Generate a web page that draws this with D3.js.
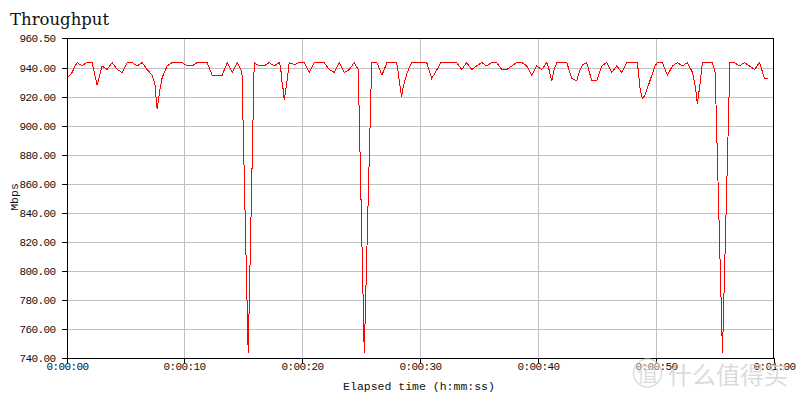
<!DOCTYPE html>
<html>
<head>
<meta charset="utf-8">
<script src="https://cdn.jsdelivr.net/npm/d3@7"></script>
<style>
  html, body { margin: 0; padding: 0; background: #fff; }
  svg { display: block; }
  .tick-label { font-family: "Liberation Mono", "DejaVu Sans Mono", monospace; font-size: 11px; letter-spacing: -0.6px; fill: #111; }
</style>
</head>
<body>
<svg id="chart" width="800" height="400"></svg>
<script>
// ---- Data ----
const chartTitle = "Throughput";
const yTitle = "Mbps";
const xTitle = "Elapsed time (h:mm:ss)";

// elapsed seconds of each sample vertex
const times = [
  0.05, 0.28, 0.48, 0.70, 0.90, 1.32, 1.55, 1.75, 2.17, 2.60,
  3.02, 3.45, 3.87, 4.30, 4.72, 5.15, 5.57, 5.99, 6.42, 6.84,
  7.27, 7.50, 7.69, 7.92, 8.12, 8.54, 8.97, 9.82, 10.24, 10.66,
  11.09, 11.94, 12.36, 13.21, 13.64, 14.06, 14.49, 14.72, 14.89, 15.42,
  15.93, 16.35, 16.78, 17.20, 17.63, 18.05, 18.17, 18.26, 18.39, 18.48,
  18.60, 18.73, 18.90, 19.33, 19.75, 20.17, 20.60, 21.02, 21.87, 22.30,
  22.72, 23.15, 23.57, 24.00, 24.42, 24.76, 25.27, 25.90, 26.35, 26.77,
  27.20, 28.02, 28.16, 28.43, 28.58, 28.73, 28.92, 29.15, 29.30, 30.57,
  30.99, 31.42, 31.76, 33.12, 33.54, 33.96, 34.39, 34.81, 35.24, 35.66,
  36.09, 36.51, 36.94, 37.36, 37.79, 38.21, 38.64, 39.06, 39.48, 39.91,
  40.33, 40.76, 40.95, 41.18, 41.38, 41.61, 42.46, 42.88, 43.30, 43.58,
  43.81, 44.15, 44.58, 45.00, 45.43, 45.85, 46.28, 46.70, 47.13, 47.55,
  48.45, 48.68, 48.87, 49.10, 49.53, 49.95, 50.15, 50.57, 51.00, 51.42,
  51.85, 52.27, 52.70, 53.12, 53.35, 53.54, 53.77, 53.97, 54.82, 55.05,
  55.67, 56.30, 56.69, 57.11, 57.54, 57.96, 58.39, 58.81, 59.24, 59.57
];
// throughput in Mbps at each vertex
const mbps = [
  933.0, 934.7, 936.6, 940.5, 943.4, 941.1, 942.5, 943.4, 943.4, 927.8,
  941.1, 938.6, 943.4, 938.6, 936.6, 943.4, 943.4, 941.1, 943.4, 938.6,
  934.7, 929.0, 911.3, 924.4, 933.1, 941.1, 943.4, 943.4, 941.1, 941.1,
  943.4, 943.4, 934.7, 934.7, 943.4, 936.6, 943.4, 940.0, 936.6, 743.0,
  943.4, 941.1, 941.1, 943.4, 941.1, 943.4, 941.0, 931.3, 924.8, 917.5,
  924.4, 931.3, 943.4, 942.0, 943.4, 943.4, 936.6, 943.4, 943.4, 938.6,
  936.6, 943.4, 936.6, 938.6, 943.4, 938.6, 743.0, 943.4, 943.4, 934.7,
  943.4, 943.4, 935.9, 919.8, 926.7, 931.3, 936.6, 941.1, 943.4, 943.4,
  932.4, 938.2, 943.4, 943.4, 938.6, 943.4, 938.6, 941.1, 943.4, 941.1,
  943.4, 943.4, 938.6, 938.6, 941.1, 943.4, 943.4, 941.1, 934.7, 941.1,
  938.6, 943.4, 938.6, 930.8, 938.6, 943.4, 943.4, 932.4, 930.8, 938.6,
  942.0, 943.4, 930.8, 930.8, 941.1, 943.4, 936.6, 941.1, 936.6, 943.4,
  943.4, 925.5, 918.4, 920.9, 931.3, 941.1, 943.4, 943.4, 934.7, 941.1,
  943.4, 941.1, 943.4, 936.6, 927.8, 915.2, 928.9, 943.4, 943.4, 936.6,
  743.0, 943.4, 943.4, 941.1, 943.4, 941.1, 938.6, 943.4, 932.4, 932.4
];

const yTicks = [740, 760, 780, 800, 820, 840, 860, 880, 900, 920, 940, 960.5];
const xTicks = [0, 10, 20, 30, 40, 50, 60];
const xTickLabels = ["0:00:00", "0:00:10", "0:00:20", "0:00:30", "0:00:40", "0:00:50", "0:01:00"];
const watermarkText = "什么值得买";
const watermarkLogo = "值";

// ---- Drawing ----
(function () {
const svg = d3.select("#chart");
const pL = 66.5, pR = 773.5, pT = 37.8, pB = 357.5;

const x = d3.scaleLinear().domain([0, 60]).range([pL, pR]);
const y = d3.scaleLinear().domain([740, 960.5]).range([pB, pT]);

// grid
const grid = svg.append("g").attr("shape-rendering", "crispEdges");
grid.selectAll("line.h").data(yTicks.slice(1, -1)).join("line")
  .attr("class", "h")
  .attr("x1", pL).attr("x2", pR)
  .attr("y1", d => Math.round(y(d)) + 0.5).attr("y2", d => Math.round(y(d)) + 0.5)
  .attr("stroke", "#c0c0c0");
grid.selectAll("line.v").data(xTicks.slice(1, -1)).join("line")
  .attr("class", "v")
  .attr("x1", d => Math.round(x(d)) + 0.5).attr("x2", d => Math.round(x(d)) + 0.5)
  .attr("y1", pT).attr("y2", pB)
  .attr("stroke", "#c0c0c0");

// line
const pts = times.map((t, i) => [t, mbps[i]]);
svg.append("path")
  .datum(pts)
  .attr("fill", "none")
  .attr("stroke", "#ff0000")
  .attr("stroke-width", 1)
  .attr("shape-rendering", "crispEdges")
  .attr("d", d3.line().x(d => x(d[0])).y(d => y(d[1])));

// frame (top & right border)
const frame = svg.append("g").attr("shape-rendering", "crispEdges");
frame.append("line").attr("x1", pL).attr("x2", pR + 0.5).attr("y1", 38.5).attr("y2", 38.5).attr("stroke", "#000");
frame.append("line").attr("x1", pR).attr("x2", pR).attr("y1", 38.5).attr("y2", pB).attr("stroke", "#000");

// y axis
const yAxis = d3.axisLeft(y).tickValues(yTicks).tickSize(5).tickPadding(4)
  .tickFormat(d3.format(".2f"));
const gy = svg.append("g").attr("transform", `translate(${pL},0)`).call(yAxis);
gy.attr("font-family", null).attr("font-size", null);
gy.select(".domain").attr("stroke", "#000").attr("shape-rendering", "crispEdges");
gy.selectAll(".tick line").attr("stroke", "#000").attr("shape-rendering", "crispEdges");
gy.selectAll(".tick").attr("transform", d => `translate(0,${Math.round(y(d)) + 0.5})`);
gy.selectAll(".tick text").attr("class", "tick-label").attr("fill", null)
  .attr("x", -11).attr("dy", "0.36em");

// x axis
const xAxis = d3.axisBottom(x).tickValues(xTicks).tickSize(5).tickPadding(2)
  .tickFormat((d, i) => xTickLabels[i]);
const gx = svg.append("g").attr("transform", `translate(0,${pB})`).call(xAxis);
gx.attr("font-family", null).attr("font-size", null);
gx.select(".domain").attr("stroke", "#000").attr("shape-rendering", "crispEdges");
gx.selectAll(".tick line").attr("stroke", "#000").attr("shape-rendering", "crispEdges");
gx.selectAll(".tick").attr("transform", d => `translate(${Math.round(x(d)) + 0.5},0)`);
gx.selectAll(".tick text").attr("class", "tick-label").attr("fill", null)
  .attr("y", 5).attr("dy", "0.71em");

// titles
svg.append("text").attr("x", 10).attr("y", 25)
  .attr("font-family", "'DejaVu Serif', 'Liberation Serif', serif")
  .attr("font-size", 16.5).attr("fill", "#111").text(chartTitle);

svg.append("text")
  .attr("transform", "translate(18,197) rotate(-90)")
  .attr("text-anchor", "middle")
  .attr("font-family", "'Liberation Mono', monospace")
  .attr("font-size", 11.5).attr("fill", "#111").text(yTitle);

svg.append("text").attr("x", 419).attr("y", 390)
  .attr("text-anchor", "middle")
  .attr("font-family", "'Liberation Mono', monospace")
  .attr("font-size", 11.5).attr("fill", "#111").text(xTitle);

// watermark
const wm = svg.append("g").attr("opacity", 0.75);
wm.append("circle").attr("cx", 647.5).attr("cy", 373).attr("r", 14)
  .attr("fill", "rgba(255,255,255,0.5)").attr("stroke", "#d4d4d4").attr("stroke-width", 1.5);
wm.append("text").attr("x", 647.5).attr("y", 381).attr("text-anchor", "middle")
  .attr("font-family", "'Noto Sans CJK SC', sans-serif").attr("font-size", 21)
  .attr("fill", "#d0d0d0").text(watermarkLogo);
wm.append("text").attr("x", 668).attr("y", 384)
  .attr("font-family", "'Noto Sans CJK SC', sans-serif").attr("font-size", 24)
  .attr("fill", "#d0d0d0").attr("textLength", 120).text(watermarkText);
})();
</script>
</body>
</html>
